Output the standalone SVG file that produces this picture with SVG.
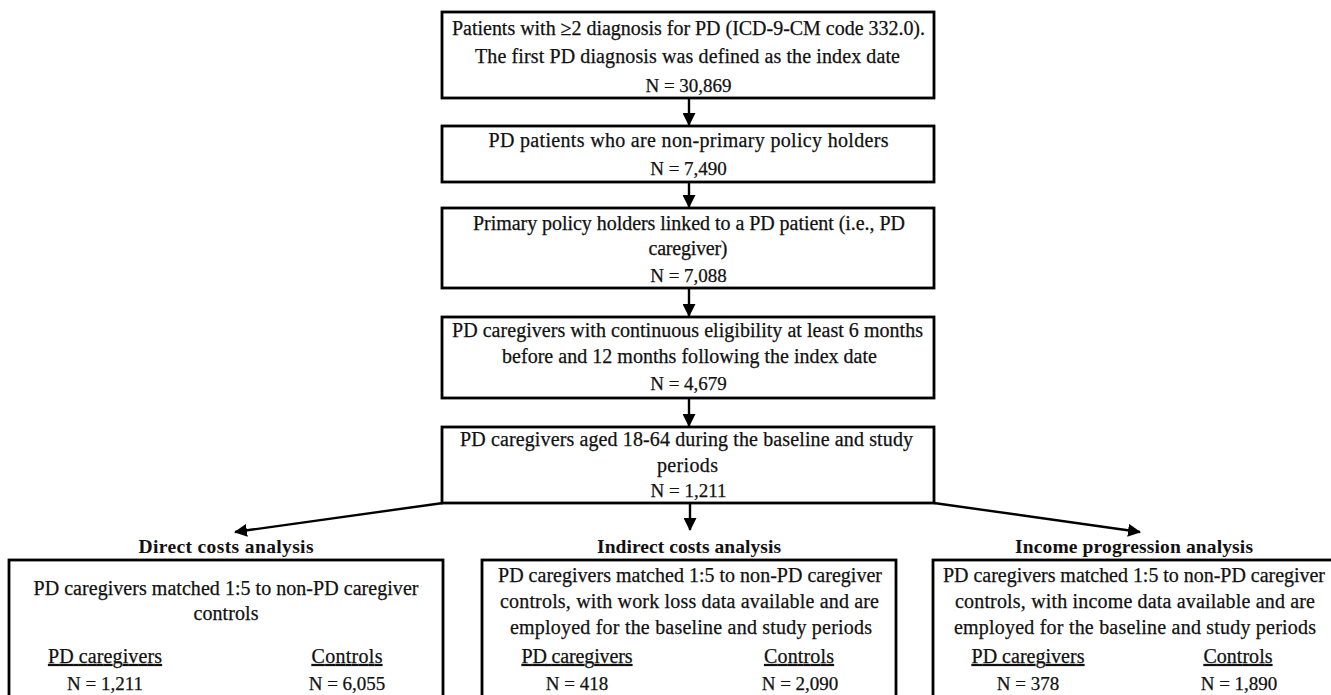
<svg xmlns="http://www.w3.org/2000/svg" width="1331" height="695" viewBox="0 0 1331 695">
<style>
.box{fill:#fff;stroke:#000;stroke-width:2.8}
.t{font-family:"Liberation Serif","Times New Roman",serif;font-size:20px;fill:#111;stroke:#111;stroke-width:0.25;text-anchor:middle}
.n{font-family:"Liberation Serif","Times New Roman",serif;font-size:19px;fill:#111;stroke:#111;stroke-width:0.25;text-anchor:middle}
.h{font-family:"Liberation Serif","Times New Roman",serif;font-size:19.5px;font-weight:bold;fill:#111;text-anchor:middle}
.u{text-decoration:underline}
.c{fill:none;stroke:#000;stroke-width:2.4}
</style>
<defs>
<marker id="ah" markerWidth="13" markerHeight="13" refX="12" refY="6.5" orient="auto" markerUnits="userSpaceOnUse">
<path d="M0,0 L13,6.5 L0,13 Z" fill="#000"/>
</marker>
</defs>
<rect width="1331" height="695" fill="#fff"/>
<g id="connectors">
<line class="c" x1="689" y1="99" x2="689" y2="125" marker-end="url(#ah)"/>
<line class="c" x1="689" y1="183" x2="689" y2="207" marker-end="url(#ah)"/>
<line class="c" x1="689" y1="289" x2="689" y2="316" marker-end="url(#ah)"/>
<line class="c" x1="689" y1="399" x2="689" y2="426" marker-end="url(#ah)"/>
<line class="c" x1="443" y1="503" x2="235" y2="532" marker-end="url(#ah)"/>
<line class="c" x1="690" y1="504" x2="690" y2="530" marker-end="url(#ah)"/>
<line class="c" x1="934" y1="503" x2="1140" y2="532" marker-end="url(#ah)"/>
</g>
<g id="n1">
<rect class="box" x="442" y="12" width="492" height="86"/>
<text class="t" x="688.5" y="35" textLength="473" lengthAdjust="spacing">Patients with ≥2 diagnosis for PD (ICD-9-CM code 332.0).</text>
<text class="t" x="687.5" y="63" textLength="425" lengthAdjust="spacing">The first PD diagnosis was defined as the index date</text>
<text class="n" x="688.5" y="92">N = 30,869</text>
</g>
<g id="n2">
<rect class="box" x="442" y="126" width="492" height="56"/>
<text class="t" x="688.5" y="147" textLength="400" lengthAdjust="spacing">PD patients who are non-primary policy holders</text>
<text class="n" x="688.5" y="175">N = 7,490</text>
</g>
<g id="n3">
<rect class="box" x="442" y="208" width="492" height="80"/>
<text class="t" x="689" y="230" textLength="432" lengthAdjust="spacing">Primary policy holders linked to a PD patient (i.e., PD</text>
<text class="t" x="688" y="255" textLength="79" lengthAdjust="spacing">caregiver)</text>
<text class="n" x="688.5" y="282">N = 7,088</text>
</g>
<g id="n4">
<rect class="box" x="442" y="317" width="492" height="81"/>
<text class="t" x="687.5" y="337" textLength="471" lengthAdjust="spacing">PD caregivers with continuous eligibility at least 6 months</text>
<text class="t" x="689.5" y="363" textLength="375" lengthAdjust="spacing">before and 12 months following the index date</text>
<text class="n" x="688.5" y="390">N = 4,679</text>
</g>
<g id="n5">
<rect class="box" x="442" y="427" width="492" height="76"/>
<text class="t" x="686.5" y="446" textLength="453" lengthAdjust="spacing">PD caregivers aged 18-64 during the baseline and study</text>
<text class="t" x="687.5" y="472" textLength="61" lengthAdjust="spacing">periods</text>
<text class="n" x="688.5" y="497">N = 1,211</text>
</g>
<g id="direct">
<text class="h" x="226" y="553" textLength="175" lengthAdjust="spacing">Direct costs analysis</text>
<rect class="box" x="9" y="560" width="434" height="170"/>
<text class="t" x="226" y="595" textLength="385" lengthAdjust="spacing">PD caregivers matched 1:5 to non-PD caregiver</text>
<text class="t" x="226" y="620" textLength="65" lengthAdjust="spacing">controls</text>
<text class="t u" x="105" y="663" textLength="114" lengthAdjust="spacing">PD caregivers</text>
<text class="t u" x="347" y="663" textLength="71" lengthAdjust="spacing">Controls</text>
<text class="n" x="105" y="690">N = 1,211</text>
<text class="n" x="347" y="690">N = 6,055</text>
</g>
<g id="indirect">
<text class="h" x="689" y="553" textLength="184" lengthAdjust="spacing">Indirect costs analysis</text>
<rect class="box" x="482" y="560" width="414" height="170"/>
<text class="t" x="690" y="582" textLength="384" lengthAdjust="spacing">PD caregivers matched 1:5 to non-PD caregiver</text>
<text class="t" x="689.5" y="608" textLength="379" lengthAdjust="spacing">controls,  with work loss data available and are</text>
<text class="t" x="691" y="634" textLength="362" lengthAdjust="spacing">employed for the baseline and study periods</text>
<text class="t u" x="577" y="663" textLength="111" lengthAdjust="spacing">PD caregivers</text>
<text class="t u" x="799" y="663" textLength="70" lengthAdjust="spacing">Controls</text>
<text class="n" x="577" y="690">N = 418</text>
<text class="n" x="800" y="690">N = 2,090</text>
</g>
<g id="income">
<text class="h" x="1134" y="553" textLength="238" lengthAdjust="spacing">Income progression analysis</text>
<rect class="box" x="933" y="560" width="420" height="170"/>
<text class="t" x="1134" y="582" textLength="382" lengthAdjust="spacing">PD caregivers matched 1:5 to non-PD caregiver</text>
<text class="t" x="1135" y="608" textLength="360" lengthAdjust="spacing">controls,  with income data available and are</text>
<text class="t" x="1135" y="634" textLength="362" lengthAdjust="spacing">employed for the baseline and study periods</text>
<text class="t u" x="1028" y="663" textLength="113" lengthAdjust="spacing">PD caregivers</text>
<text class="t u" x="1238" y="663" textLength="69" lengthAdjust="spacing">Controls</text>
<text class="n" x="1028" y="690">N = 378</text>
<text class="n" x="1239" y="690">N = 1,890</text>
</g>
</svg>
